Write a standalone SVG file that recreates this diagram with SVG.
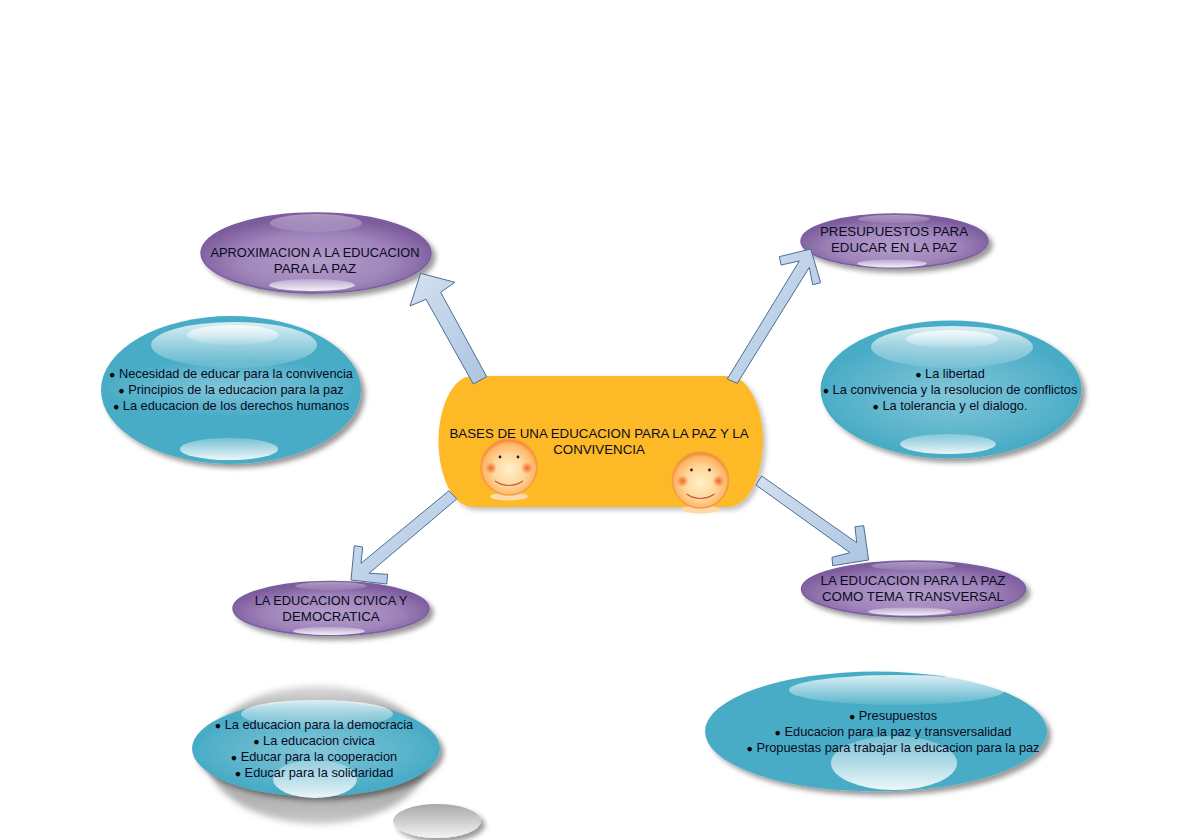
<svg xmlns="http://www.w3.org/2000/svg" width="1188" height="840" viewBox="0 0 1188 840">
<style>
text{font-family:"Liberation Sans",Arial,sans-serif;font-size:12.8px;fill:#0a0a1e;text-anchor:middle}
text.cap{font-size:13.3px}
tspan.dot{font-size:10.500px;fill:#000}
.arrow{fill:url(#arrowFill);stroke:#4a6f96;stroke-width:1}
.purple{fill:url(#purpleFill);stroke:#7a5ea0;stroke-width:1.500;filter:url(#shadow)}
.blue{fill:#4aacc6;filter:url(#shadow)}
.hl{fill:url(#gloss)}
.hlp{fill:url(#glossFaint)}
.hlb{fill:url(#glossUp)}
.lens{fill:url(#lens)}
</style>
<defs>
<filter id="shadow" x="-15%" y="-20%" width="135%" height="145%"><feDropShadow dx="4" dy="4" stdDeviation="2.500" flood-color="#000" flood-opacity="0.4"/></filter>
<filter id="shadowLight" x="-10%" y="-10%" width="120%" height="125%"><feDropShadow dx="3" dy="3" stdDeviation="2.500" flood-color="#000" flood-opacity="0.25"/></filter>
<filter id="soft" x="-15%" y="-20%" width="130%" height="140%"><feGaussianBlur stdDeviation="3"/></filter>
<linearGradient id="arrowFill" x1="0" y1="0" x2="1" y2="1"><stop offset="0" stop-color="#d3e0f0"/><stop offset="1" stop-color="#adc4e1"/></linearGradient>
<radialGradient id="purpleFill" cx="50%" cy="60%" r="55%"><stop offset="0" stop-color="#b49dca"/><stop offset="0.6" stop-color="#a085bb"/><stop offset="1" stop-color="#7c5b9c"/></radialGradient>
<linearGradient id="gloss" x1="0" y1="0" x2="0" y2="1"><stop offset="0" stop-color="#fff" stop-opacity="0.8"/><stop offset="1" stop-color="#fff" stop-opacity="0.1"/></linearGradient>
<linearGradient id="glossFaint" x1="0" y1="0" x2="0" y2="1"><stop offset="0" stop-color="#fff" stop-opacity="0.4"/><stop offset="1" stop-color="#fff" stop-opacity="0.1"/></linearGradient>
<linearGradient id="glossUp" x1="0" y1="1" x2="0" y2="0"><stop offset="0" stop-color="#fff" stop-opacity="0.9"/><stop offset="1" stop-color="#fff" stop-opacity="0.25"/></linearGradient>
<radialGradient id="lens"><stop offset="0" stop-color="#fff" stop-opacity="0.32"/><stop offset="1" stop-color="#fff" stop-opacity="0.02"/></radialGradient>
<linearGradient id="grey" x1="0" y1="0" x2="0" y2="1"><stop offset="0" stop-color="#dcdcdc"/><stop offset="0.25" stop-color="#a0a0a0"/><stop offset="0.85" stop-color="#b4b4b4"/><stop offset="1" stop-color="#cccccc"/></linearGradient>
<linearGradient id="grey2" x1="0" y1="0" x2="0" y2="1"><stop offset="0" stop-color="#a8a8a8"/><stop offset="1" stop-color="#f4f4f4"/></linearGradient>
<radialGradient id="face" cx="50%" cy="55%" r="52%"><stop offset="0" stop-color="#fff0cc"/><stop offset="0.55" stop-color="#ffd79a"/><stop offset="0.9" stop-color="#feb565"/><stop offset="1" stop-color="#f58f30"/></radialGradient>
<radialGradient id="cheek"><stop offset="0" stop-color="#f4602e"/><stop offset="1" stop-color="#f4602e" stop-opacity="0"/></radialGradient>
<g id="smile">
<ellipse cx="0" cy="29.500" rx="19" ry="4" fill="#ffd9a8"/>
<circle cx="0" cy="0" r="28" fill="url(#face)" stroke="#f59a45" stroke-width="1.500"/>
<circle cx="-18" cy="1" r="6" fill="url(#cheek)"/><circle cx="18" cy="1" r="6" fill="url(#cheek)"/>
<circle cx="-9" cy="-10" r="1.400" fill="#222"/><circle cx="9" cy="-10" r="1.400" fill="#222"/>
<path d="M-14 14Q0 23 14 14" fill="none" stroke="#c8503a" stroke-width="1.200"/>
</g>
</defs>

<g id="central">
<path d="M473 376H728C750 376 763 410 763 441C763 472 750 507 728 507H473C451 507 438.500 472 438.500 441C438.500 410 451 376 473 376Z" fill="#fdb927" filter="url(#shadowLight)"/>
<text class="cap" x="599" y="438">BASES DE UNA EDUCACION PARA LA PAZ Y LA</text>
<text class="cap" x="599" y="454">CONVIVENCIA</text>
<use href="#smile" x="509" y="467"/>
<use href="#smile" x="700.500" y="480"/>
</g>

<g id="aproximacion">
<ellipse class="purple" cx="316" cy="253" rx="115" ry="40"/>
<ellipse class="hlp" cx="316" cy="223" rx="46" ry="9"/>
<ellipse class="hlb" cx="312" cy="285" rx="43" ry="6"/>
<text x="315" y="257">APROXIMACION A LA EDUCACION</text>
<text class="cap" x="315" y="273">PARA LA PAZ</text>
</g>

<g id="presupuestos">
<ellipse class="purple" cx="894.500" cy="241" rx="93.500" ry="27"/>
<ellipse class="hlp" cx="894" cy="219" rx="36" ry="4"/>
<ellipse class="hlb" cx="892" cy="263.500" rx="35" ry="4"/>
<text class="cap" x="894" y="236">PRESUPUESTOS PARA</text>
<text class="cap" x="894" y="252">EDUCAR EN LA PAZ</text>
</g>

<g id="transversal">
<ellipse class="purple" cx="913.500" cy="589" rx="112" ry="28"/>
<ellipse class="hlp" cx="913" cy="566" rx="42" ry="4"/>
<ellipse class="hlb" cx="910" cy="611.500" rx="42" ry="4"/>
<text class="cap" x="913" y="585">LA EDUCACION PARA LA PAZ</text>
<text class="cap" x="913" y="601">COMO TEMA TRANSVERSAL</text>
</g>

<g id="civica">
<ellipse class="purple" cx="331" cy="608.500" rx="98" ry="27"/>
<ellipse class="hlp" cx="331" cy="586" rx="36" ry="4"/>
<ellipse class="hlb" cx="329" cy="631" rx="36" ry="4"/>
<text x="331" y="605">LA EDUCACION CIVICA Y</text>
<text class="cap" x="331" y="621">DEMOCRATICA</text>
</g>

<g id="contenido-aproximacion">
<ellipse class="blue" cx="231" cy="390" rx="130" ry="74"/>
<ellipse class="lens" cx="231" cy="388" rx="122" ry="27"/>
<ellipse class="hl" cx="234" cy="345" rx="83" ry="23"/>
<ellipse class="hl" cx="233" cy="335" rx="46" ry="10"/>
<ellipse class="hlb" cx="229" cy="449" rx="49" ry="11"/>
<text x="231" y="378"><tspan class="dot">●</tspan> Necesidad de educar para la convivencia</text>
<text x="231" y="394"><tspan class="dot">●</tspan> Principios de la educacion para la paz</text>
<text x="231" y="410"><tspan class="dot">●</tspan> La educacion de los derechos humanos</text>
</g>

<g id="contenido-presupuestos">
<ellipse class="blue" cx="951" cy="389.500" rx="130.500" ry="69"/>
<ellipse class="lens" cx="951" cy="395" rx="126" ry="56"/>
<ellipse class="hl" cx="952" cy="347" rx="81" ry="21"/>
<ellipse class="hl" cx="952" cy="339" rx="46" ry="9"/>
<ellipse class="hlb" cx="948" cy="444" rx="48" ry="10"/>
<text x="950" y="378"><tspan class="dot">●</tspan> La libertad</text>
<text x="950" y="394"><tspan class="dot">●</tspan> La convivencia y la resolucion de conflictos</text>
<text x="950" y="410"><tspan class="dot">●</tspan> La tolerancia y el dialogo.</text>
</g>

<g id="contenido-transversal">
<ellipse class="blue" cx="876" cy="731.500" rx="171" ry="60"/>
<ellipse class="hl" cx="897" cy="690" rx="108" ry="15"/>
<ellipse class="hlb" cx="894" cy="763" rx="63" ry="27"/>
<text x="893" y="720"><tspan class="dot">●</tspan> Presupuestos</text>
<text x="893" y="736"><tspan class="dot">●</tspan> Educacion para la paz y transversalidad</text>
<text x="893" y="752"><tspan class="dot">●</tspan> Propuestas para trabajar la educacion para la paz</text>
</g>

<g id="contenido-civica">
<ellipse cx="318" cy="755" rx="112" ry="69" fill="url(#grey)" filter="url(#soft)"/>
<ellipse class="blue" cx="316" cy="748.500" rx="124" ry="48"/>
<ellipse class="lens" cx="316" cy="750" rx="118" ry="40"/>
<ellipse class="hl" cx="317" cy="714" rx="76" ry="14"/>
<ellipse class="hlb" cx="315" cy="779" rx="42" ry="19"/>
<text x="314" y="729"><tspan class="dot">●</tspan> La educacion para la democracia</text>
<text x="314" y="745"><tspan class="dot">●</tspan> La educacion civica</text>
<text x="314" y="761"><tspan class="dot">●</tspan> Educar para la cooperacion</text>
<text x="314" y="777"><tspan class="dot">●</tspan> Educar para la solidaridad</text>
<ellipse cx="437" cy="821" rx="44" ry="17" fill="url(#grey2)" filter="url(#shadow)"/>
</g>

<g id="connectors">
<polygon class="arrow" points="486.700,376.700 440.700,292.300 455,282.300 420.700,273.300 410,306 426,299.300 473.300,384"/>
<polygon class="arrow" points="727.300,379 799.300,261 781,265 779.300,256.700 810.700,249 820.700,282.700 812.700,284.700 809.300,267.300 737.300,383.300"/>
<polygon class="arrow" points="761.700,476 856.700,542.700 855,526.700 863.700,525.700 868.700,560 832.700,565.700 832,557.300 850,552.700 756,485"/>
<polygon class="arrow" points="449,490.700 361,563.300 362.700,547 354.300,545.700 351,580 386.700,584 387.700,574.300 369,573.300 456.700,499"/>
</g>
</svg>
